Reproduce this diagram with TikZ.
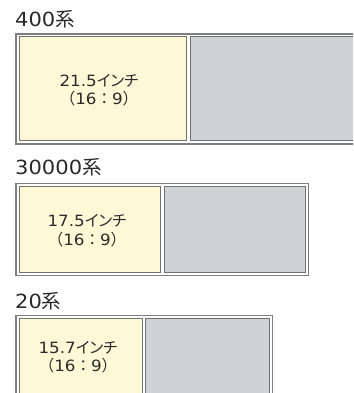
\documentclass[tikz,border=0pt]{standalone}
\usepackage{fontspec}
\newfontfamily\numfont[FakeStretch=1.08]{DejaVu Sans}
\newfontfamily\jpfont[RawFeature=+palt]{Noto Sans CJK JP}
\newfontfamily\jpwide{Noto Sans CJK JP}
\definecolor{screen}{HTML}{FFF8D6}
\definecolor{blank}{HTML}{D1D2D4}
\definecolor{rim}{HTML}{7E7E7E}
\definecolor{edge}{HTML}{707070}
\definecolor{ink}{HTML}{2A2A2A}
\newcommand{\series}[1]{{\numfont #1}{\jpfont 系}}
\newcommand{\inch}[1]{{\numfont #1}{\jpfont インチ}\\{\jpwide （}{\numfont 16}{\jpwide ：}{\numfont 9}{\jpwide ）}}

\begin{document}
\begin{tikzpicture}[x=1pt,y=-1pt,
	frame/.style={draw=rim, line width=1.6pt, inner sep=0pt},
	lcd/.style={draw=edge, line width=1pt, fill=screen, inner sep=0pt},
	off/.style={draw=edge, line width=1pt, fill=blank, inner sep=0pt},
	title/.style={anchor=base west, inner sep=0pt, text=ink, font=\fontsize{19.5}{22}\selectfont},
	size/.style={align=center, inner sep=0pt, text=ink, font=\fontsize{15.5}{18.5}\selectfont}]
	\useasboundingbox (0,0) rectangle (353,393);
	\clip (0,0) rectangle (353,393);

	\node at (15,27) [title] (t400) {\series{400}};
	\node at (188,89) [frame, minimum width=344pt, minimum height=110.5pt] (f400) {};
	\node at (102.75,88.75) [lcd, minimum width=166.5pt, minimum height=103.5pt] (s400) {};
	\node at (277.5,88.75) [off, minimum width=175pt, minimum height=103.5pt] (b400) {};
	\node at (99,90) [size] (l400) {\inch{21.5}};

	\node at (15,174.5) [title] (t30000) {\series{30000}};
	\node at (162.25,229.5) [frame, minimum width=292.5pt, minimum height=92pt] (f30000) {};
	\node at (89.75,229) [lcd, minimum width=140.5pt, minimum height=86pt] (s30000) {};
	\node at (234.5,229) [off, minimum width=141pt, minimum height=86pt] (b30000) {};
	\node at (87,230.5) [size] (l30000) {\inch{17.5}};

	\node at (15,308.5) [title] (t20) {\series{20}};
	\node at (144.25,362.75) [frame, minimum width=256.5pt, minimum height=94.5pt] (f20) {};
	\node at (80.75,364.25) [lcd, minimum width=122.5pt, minimum height=91.5pt] (s20) {};
	\node at (207.5,364.25) [off, minimum width=124pt, minimum height=91.5pt] (b20) {};
	\node at (78,357) [size] (l20) {\inch{15.7}};
\end{tikzpicture}
\end{document}
